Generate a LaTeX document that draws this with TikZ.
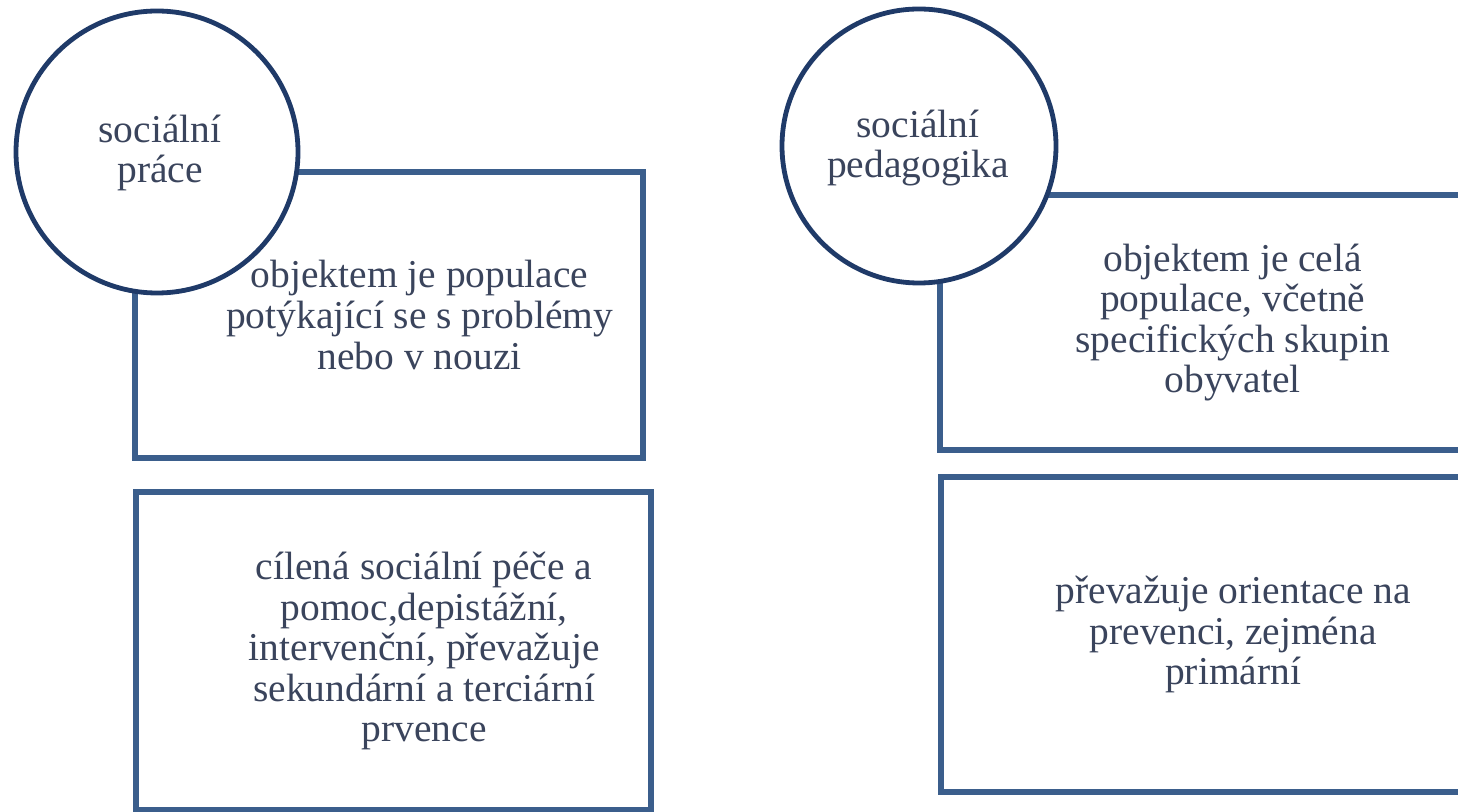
\documentclass[tikz,border=0pt]{standalone}
\usepackage{fontspec}
\setmainfont{Liberation Serif}
\definecolor{ringblue}{HTML}{1F3A68}
\definecolor{boxblue}{HTML}{3B5E8C}
\definecolor{inkgray}{HTML}{3A445C}

\begin{document}
\begin{tikzpicture}[x=0.75pt,y=-0.75pt]
\tikzset{Kruh/.style = {shape = circle, draw = ringblue, line width = 3.6pt, fill = white, inner sep = 0pt},
         Ramec/.style = {shape = rectangle, draw = boxblue, line width = 3.8pt, inner sep = 0pt},
         Popis/.style = {text = inkgray, align = center, inner sep = 0pt, font = \fontsize{29.6}{30.4}\selectfont}}

\useasboundingbox (0,0) rectangle (1458,812);
\clip (0,0) rectangle (1458,812);

\node[Ramec, minimum width=381pt, minimum height=214.5pt] (PraceA) at (389,315) {};
\node[Ramec, minimum width=386.25pt, minimum height=238.5pt] (PraceB) at (393.5,651) {};
\node[Ramec, minimum width=393pt, minimum height=191.25pt] (PedA) at (1202,322.5) {};
\node[Ramec, minimum width=392.25pt, minimum height=236.25pt] (PedB) at (1202.5,634.5) {};

\node[Kruh, minimum size=211.5pt] (Prace) at (157,152) {};
\node[Kruh, minimum size=205.5pt] (Ped) at (919,146) {};

\node[Popis] (PraceT) at (160,153) {sociální\\práce};
\node[Popis] (PedT) at (918,148) {sociální\\pedagogika};

\node[Popis] (PraceAT) at ([xshift=23pt]PraceA.center) {objektem je populace\\potýkající se s problémy\\nebo v nouzi};
\node[Popis] (PraceBT) at ([xshift=23pt]PraceB.center) {cílená sociální péče a\\pomoc,depistážní,\\intervenční, převažuje\\sekundární a terciární\\prvence};
\node[Popis] (PedAT) at ([xshift=23pt]PedA.center) {objektem je celá\\populace, včetně\\specifických skupin\\obyvatel};
\node[Popis] (PedBT) at ([xshift=23pt]PedB.center) {převažuje orientace na\\prevenci, zejména\\primární};
\end{tikzpicture}
\end{document}
